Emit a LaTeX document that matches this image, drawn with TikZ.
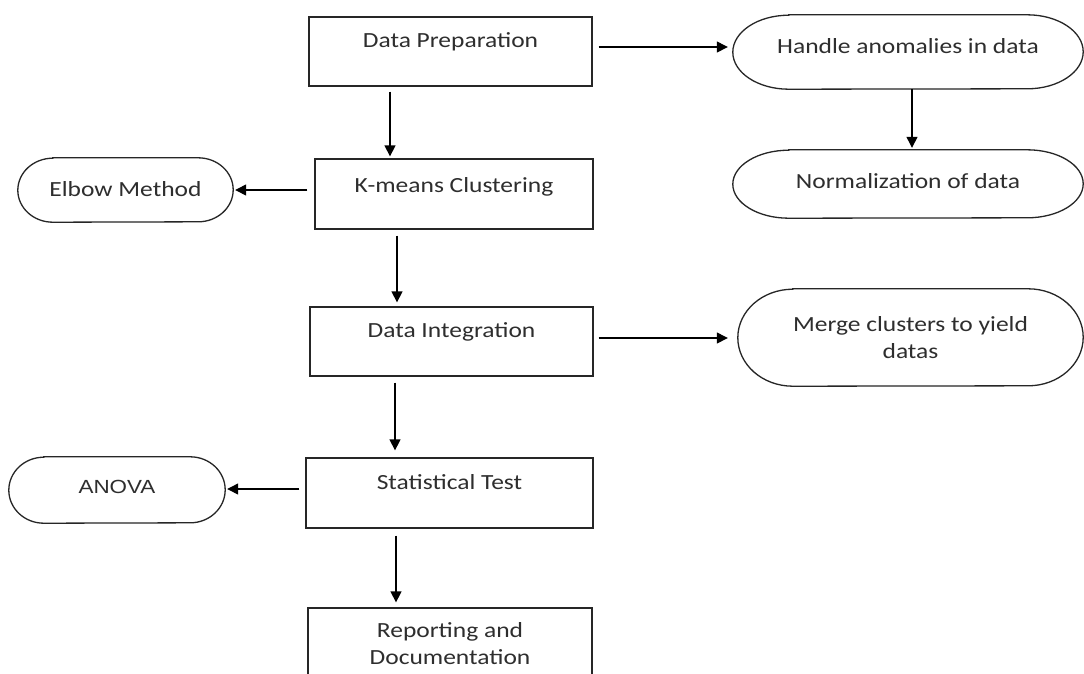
\documentclass[tikz,border=0pt]{standalone}
\usepackage{fontspec}
\setmainfont[FakeStretch=1.18]{Carlito}
\newfontfamily\arialf[FakeStretch=1.18]{Liberation Sans}
\usetikzlibrary{arrows.meta}
\newcommand\termline[3]{%
  \draw[outl] ([xshift=#2pt]#1.north west) -- ([xshift=-#2pt]#1.north east)
    arc[start angle=-90,end angle=90,x radius=#2,y radius=#3]
    -- ([xshift=#2pt]#1.south west)
    arc[start angle=90,end angle=270,x radius=#2,y radius=#3] -- cycle;}
\begin{document}
\begin{tikzpicture}[x=1pt,y=-1pt,
  every node/.style={text=black!82, font=\fontsize{21.6}{27}\selectfont},
  box/.style={draw=black!85, line width=1.3pt, rectangle, inner sep=0pt},
  term/.style={rectangle, inner sep=0pt},
  outl/.style={draw=black!85, line width=1.3pt},
  arr/.style={-{Triangle[length=11pt,width=11pt]}, line width=1.3pt, draw=black}]
\useasboundingbox (0,0) rectangle (1084,673);
\clip (0,0) rectangle (1084,673);
\fill[white] (0,0) rectangle (1084,673);

% process boxes
\node[box, minimum width=283pt, minimum height=69pt, text height=30pt, text depth=39pt] (prep) at (450.5,51.5) {Data Preparation};
\node[box, minimum width=278pt, minimum height=70pt, text height=33pt, text depth=37pt] (kmeans) at (454,194) {K-means Clustering};
\node[box, minimum width=283pt, minimum height=69pt, text height=30pt, text depth=39pt] (integ) at (451.5,341.5) {Data Integration};
\node[box, minimum width=287pt, minimum height=70pt, text height=31pt, text depth=39pt] (stat) at (449.5,493) {Statistical Test};
\node[box, minimum width=284pt, minimum height=71pt, align=center] (report) at (450,643.5) {Reporting and\\Documentation};

% terminators
\node[term, minimum width=350pt, minimum height=74pt, text height=38pt, text depth=36pt] (handle) at (908,52) {Handle anomalies in data};
\termline{handle}{56}{37}
\node[term, minimum width=350pt, minimum height=68pt, text height=38pt, text depth=30pt] (norm) at (908,184) {Normalization of data};
\termline{norm}{56}{34}
\node[term, minimum width=215pt, minimum height=64pt, text height=38pt, text depth=26pt] (elbow) at (125.5,190) {Elbow Method};
\termline{elbow}{35}{32}
\node[term, minimum width=345pt, minimum height=97pt, align=center] (merge) at (910.5,337.5) {Merge clusters to yield\\datas};
\termline{merge}{55}{48.5}
\node[term, minimum width=216pt, minimum height=66pt, text height=36pt, text depth=30pt, font=\arialf\fontsize{19}{23}\selectfont] (anova) at (117,490) {ANOVA};
\termline{anova}{35}{33}

% connectors
\draw[arr, shorten <=6pt, shorten >=5pt] ([yshift=4.5pt]prep.east) -- ([yshift=5pt]handle.west);
\draw[arr, shorten <=0pt, shorten >=2pt] ([xshift=4pt]handle.south) -- ([xshift=4pt]norm.north);
\draw[arr, shorten <=5pt, shorten >=2pt] ([xshift=-60.5pt]prep.south) -- ([xshift=-64pt]kmeans.north);
\draw[arr, shorten <=7pt, shorten >=2pt] ([yshift=4pt]kmeans.west) -- (elbow.east);
\draw[arr, shorten <=6pt, shorten >=4pt] ([xshift=-57pt]kmeans.south) -- ([xshift=-54.5pt]integ.north);
\draw[arr, shorten <=5pt, shorten >=10pt] ([yshift=3.5pt]integ.east) -- ([yshift=-0.5pt]merge.west);
\draw[arr, shorten <=6pt, shorten >=7pt] ([xshift=-56.5pt]integ.south) -- ([xshift=-54.5pt]stat.north);
\draw[arr, shorten <=6pt, shorten >=2pt] ([yshift=4pt]stat.west) -- ([yshift=1pt]anova.east);
\draw[arr, shorten <=7pt, shorten >=5pt] ([xshift=-53.5pt]stat.south) -- ([xshift=-54pt]report.north);
\end{tikzpicture}
\end{document}
